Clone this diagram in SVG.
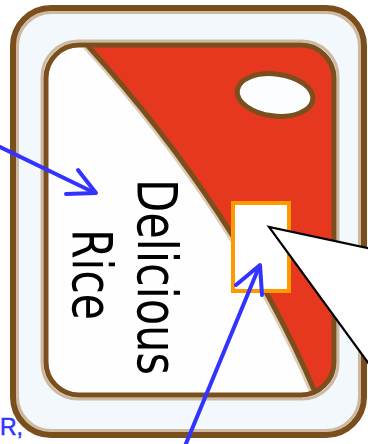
<svg xmlns="http://www.w3.org/2000/svg" width="368" height="444" viewBox="0 0 368 444">
  <style>
    .brown { fill: none; stroke: #7a4e1d; }
    .tan { fill: none; stroke: #cdb99f; }
    .blue { fill: none; stroke: #3333ff; stroke-width: 4; stroke-linecap: round; stroke-linejoin: round; }
    .label { font-family: "Liberation Sans Narrow", "DejaVu Sans Condensed", "Liberation Sans", sans-serif; font-size: 55px; fill: #000; }
  </style>
  <defs>
    <clipPath id="innerClip">
      <rect x="46" y="45" width="288" height="350" rx="33" ry="33"/>
    </clipPath>
  </defs>
  <rect x="0" y="0" width="368" height="444" fill="#ffffff"/>

  <g id="card">
    <!-- outer frame -->
    <rect x="13" y="8" width="351" height="427" rx="38" ry="38" fill="#f3f8fc"/>
    <rect x="17.5" y="12.5" width="342" height="418" rx="34" ry="34" class="tan" stroke-width="3"/>
    <rect x="13" y="8" width="351" height="427" rx="38" ry="38" class="brown" stroke-width="6"/>
    <!-- inner panel -->
    <rect x="46" y="45" width="288" height="350" rx="33" ry="33" fill="#fefefe"/>
    <g clip-path="url(#innerClip)">
      <path d="M 88,46 Q 238,212 315,392 L 345,392 L 345,35 L 80,35 Z" fill="#e6381f"/>
      <path d="M 86,46 Q 236,212 313,392" fill="none" stroke="#dccbb5" stroke-width="7"/>
      <path d="M 88,46 Q 238,212 315,392" fill="none" stroke="#7a4e1d" stroke-width="5"/>
    </g>
    <rect x="42" y="41" width="296" height="358" rx="36" ry="36" class="tan" stroke-width="3"/>
    <rect x="46" y="45" width="288" height="350" rx="33" ry="33" class="brown" stroke-width="5"/>
    <!-- hole -->
    <ellipse cx="275" cy="95" rx="38" ry="21" transform="rotate(7 275 95)" fill="#fbfdfe" stroke="#7a4e1d" stroke-width="5"/>
  </g>

  <g id="label">
    <text class="label" transform="translate(138,179) rotate(90)" x="0" y="0" textLength="196" lengthAdjust="spacingAndGlyphs">Delicious</text>
    <text class="label" transform="translate(73,229) rotate(90)" x="0" y="0" textLength="91" lengthAdjust="spacingAndGlyphs">Rice</text>
  </g>

  <g id="highlight">
    <rect x="233" y="203" width="56" height="88" fill="#ffffff" stroke="#ff9900" stroke-width="4"/>
  </g>

  <g id="callout">
    <path d="M 372,249 L 269,227 L 372,368" fill="#ffffff" stroke="#000000" stroke-width="2.2" stroke-linejoin="miter"/>
  </g>

  <g id="note">
    <text x="0" y="435" font-family="Liberation Sans, Arial, sans-serif" font-size="23" fill="#3333ff" stroke="#3333ff" stroke-width="0.5">R,</text>
  </g>

  <g id="connectors">
    <path class="blue" d="M -4,145 L 95,193"/>
    <path class="blue" d="M 78,170 L 96,193 L 66,194"/>
    <path class="blue" d="M 185,446 L 259,267"/>
    <path class="blue" d="M 236,285 L 260,265 L 262,295"/>
  </g>
</svg>
